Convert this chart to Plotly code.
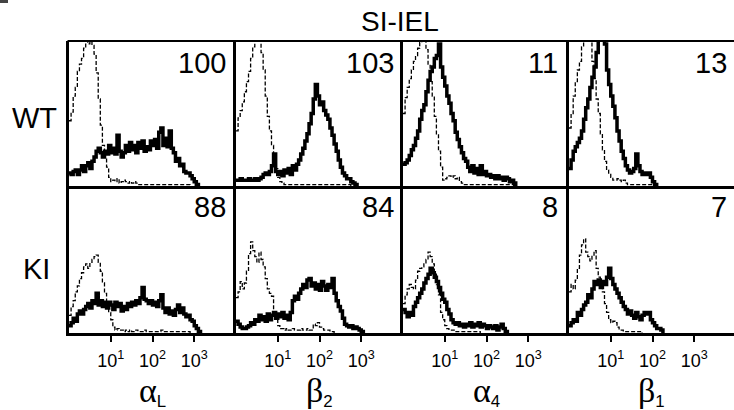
import plotly.graph_objects as go

# ---------------- data ----------------
# log10 fluorescence bin positions (decades)
BIN_LOG10 = [0.00, 0.05, 0.10, 0.15, 0.20, 0.25, 0.30, 0.35, 0.40, 0.45,
             0.50, 0.55, 0.60, 0.65, 0.70, 0.75, 0.80, 0.85, 0.90, 0.95,
             1.00, 1.05, 1.10, 1.15, 1.20, 1.25, 1.30, 1.35, 1.40, 1.45,
             1.50, 1.55, 1.60, 1.65, 1.70, 1.75, 1.80, 1.85, 1.90, 1.95,
             2.00, 2.05, 2.10, 2.15, 2.20, 2.25, 2.30, 2.35, 2.40, 2.45,
             2.50, 2.55, 2.60, 2.65, 2.70, 2.75, 2.80, 2.85, 2.90, 2.95,
             3.00, 3.05, 3.10, 3.15, 3.20]

TITLE = "SI-IEL"
ROW_LABELS = ["WT", "KI"]
MARKER_GREEK = ["α", "β", "α", "β"]
MARKER_SUB = ["L", "2", "4", "1"]
MFI_WT = [100, 103, 11, 13]
MFI_KI = [88, 84, 8, 7]
TICK_VALUES = [10, 100, 1000]
TICK_TEXT = ["10<sup>1</sup>", "10<sup>2</sup>", "10<sup>3</sup>"]

# histogram heights, % of panel height (solid = stained, iso = control)
WT_AL_SOLID = [9, 8, 10, 11, 8, 11, 14, 10, 14, 16, 12, 17, 20, 24, 26, 23, 20, 24, 22, 28,
               23, 26, 22, 35, 24, 20, 23, 28, 24, 30, 25, 28, 23, 30, 26, 31, 24, 27, 25, 31,
               28, 32, 26, 37, 40, 28, 33, 27, 38, 26, 23, 17, 19, 14, 15, 10, 9, 9, 7, 5,
               3, 1, 0]
WT_AL_ISO = [45, 51, 62, 68, 79, 84, 88, 95, 102, 98, 104, 97, 91, 78, 60, 42, 28, 20, 13, 6,
             3, 4, 3, 5, 2, 3, 4, 3, 2, 3, 2, 3, 2, 1, 1, 1, 1, 1, 1, 1,
             1, 1, 1, 1, 1, 1, 1, 1, 1, 1, 1, 1, 1, 1, 1, 1, 1, 1, 0]
WT_B2_SOLID = [4, 4, 5, 4, 4, 4, 5, 4, 4, 5, 4, 5, 6, 8, 9, 8, 10, 14, 22, 10,
               8, 10, 7, 11, 9, 12, 8, 14, 11, 15, 18, 22, 26, 31, 36, 43, 50, 60, 70, 62,
               56, 58, 52, 49, 46, 40, 35, 29, 24, 18, 13, 9, 7, 5, 5, 3, 2, 1, 0]
WT_B2_ISO = [38, 47, 52, 58, 65, 72, 79, 88, 96, 103, 100, 104, 92, 80, 62, 48, 38, 28, 22, 12,
             6, 3, 2, 1, 1, 1, 1, 1, 1, 1, 1, 1, 1, 1, 1, 1, 1, 1, 1, 1,
             1, 1, 1, 1, 1, 1, 1, 1, 1, 1, 1, 1, 1, 1, 1, 0]
WT_A4_SOLID = [15, 16, 18, 21, 25, 28, 33, 38, 46, 52, 56, 65, 73, 79, 82, 88, 90, 98, 82, 75,
               69, 62, 57, 50, 45, 37, 32, 27, 23, 19, 17, 13, 10, 14, 9, 12, 8, 14, 8, 10,
               7, 8, 6, 7, 5, 7, 5, 6, 4, 6, 5, 3, 4, 2, 0]
WT_A4_ISO = [50, 61, 68, 74, 80, 86, 90, 95, 99, 103, 101, 94, 84, 72, 62, 48, 36, 24, 13, 4,
             5, 6, 7, 6, 7, 5, 6, 3, 2, 1, 1, 1, 1, 1, 1, 1, 1, 1, 1, 1,
             1, 1, 1, 1, 1, 1, 1, 1, 1, 1, 1, 1, 1, 0]
WT_B1_SOLID = [12, 18, 24, 27, 30, 33, 38, 46, 54, 60, 68, 75, 82, 92, 101, 103, 104, 98, 80, 70,
               62, 55, 47, 38, 31, 24, 19, 14, 11, 9, 10, 12, 22, 14, 10, 8, 9, 8, 9, 6,
               3, 1, 0]
WT_B1_ISO = [40, 50, 62, 72, 80, 86, 96, 101, 104, 102, 103, 86, 74, 60, 50, 36, 25, 17, 11, 8,
             6, 4, 4, 5, 4, 3, 4, 2, 1, 1, 1, 1, 1, 1, 1, 1, 1, 1, 1, 1, 1, 1, 0]

KI_AL_SOLID = [5, 7, 10, 8, 13, 15, 13, 16, 18, 20, 17, 22, 20, 27, 19, 22, 18, 21, 17, 21,
               19, 16, 21, 18, 20, 15, 18, 16, 20, 18, 21, 19, 22, 20, 24, 31, 23, 22, 20, 22,
               19, 21, 18, 22, 26, 17, 14, 17, 13, 15, 12, 16, 19, 14, 17, 13, 11, 12, 9, 8,
               5, 3, 1, 0]
KI_AL_ISO = [12, 18, 22, 28, 32, 37, 41, 45, 47, 44, 48, 50, 52, 53, 48, 42, 34, 27, 21, 14,
             9, 4, 2, 3, 2, 2, 1, 2, 1, 2, 1, 1, 2, 1, 1, 1, 2, 1, 1, 1,
             1, 1, 1, 1, 2, 1, 1, 1, 1, 1, 1, 1, 1, 1, 1, 1, 1, 1, 0]
KI_B2_SOLID = [8, 6, 4, 3, 3, 4, 5, 7, 6, 9, 8, 12, 9, 11, 8, 13, 9, 12, 14, 10,
               13, 11, 14, 10, 12, 9, 14, 22, 25, 23, 27, 30, 33, 31, 36, 37, 32, 34, 30, 33,
               29, 35, 32, 29, 33, 31, 37, 27, 22, 18, 15, 10, 6, 5, 4, 5, 3, 4, 3, 2,
               1, 0]
KI_B2_ISO = [24, 28, 35, 30, 34, 42, 54, 62, 56, 52, 48, 55, 50, 45, 37, 30, 27, 25, 14, 9,
             5, 3, 3, 2, 3, 2, 2, 3, 2, 2, 2, 3, 2, 2, 3, 2, 2, 6, 5, 7,
             4, 3, 2, 2, 2, 1, 1, 0]
KI_A4_SOLID = [16, 14, 11, 14, 12, 18, 21, 24, 27, 30, 34, 37, 40, 44, 41, 38, 35, 31, 27, 23,
               21, 16, 13, 9, 7, 6, 7, 5, 6, 4, 6, 5, 7, 4, 6, 5, 7, 4, 6, 5,
               3, 5, 4, 3, 5, 2, 4, 6, 3, 1, 0]
KI_A4_ISO = [20, 26, 30, 33, 31, 30, 36, 42, 44, 45, 47, 50, 55, 52, 47, 40, 33, 26, 14, 9,
             5, 3, 2, 2, 2, 1, 1, 1, 1, 1, 1, 1, 1, 1, 1, 1, 1, 0]
KI_B1_SOLID = [5, 7, 9, 8, 14, 12, 16, 19, 21, 26, 24, 30, 35, 33, 36, 31, 35, 33, 38, 44,
               37, 33, 30, 27, 24, 21, 18, 16, 13, 15, 12, 10, 14, 11, 9, 12, 14, 13, 14, 9,
               7, 5, 3, 3, 2, 0]
KI_B1_ISO = [28, 33, 30, 36, 44, 53, 60, 64, 55, 52, 49, 53, 56, 44, 38, 33, 28, 20, 14, 9,
             7, 8, 7, 4, 2, 2, 1, 1, 1, 1, 1, 1, 1, 1, 1, 0]

# ---------------- layout (pixels) ----------------
W, H = 734, 410
COL_EDGES = [69, 236, 403, 569, 735]
ROW_EDGES = [41, 186, 333]
PX_PER_DECADE = 41.75
NUM_RIGHT = [228, 396, 560, 729]
NUM_Y = [63, 207]
ROW_LABEL_XY = [(34, 118), (36, 269)]

SANS = "Liberation Sans, Arial, Helvetica, sans-serif"


def fx(p):
    return p / W


def fy(p):
    return 1 - p / H


FLUOR = [10 ** b for b in BIN_LOG10]
SOLID = [[WT_AL_SOLID, WT_B2_SOLID, WT_A4_SOLID, WT_B1_SOLID],
         [KI_AL_SOLID, KI_B2_SOLID, KI_A4_SOLID, KI_B1_SOLID]]
ISO = [[WT_AL_ISO, WT_B2_ISO, WT_A4_ISO, WT_B1_ISO],
       [KI_AL_ISO, KI_B2_ISO, KI_A4_ISO, KI_B1_ISO]]
MFI = [MFI_WT, MFI_KI]

fig = go.Figure()
layout = {}
annotations = []

for r in range(2):
    for c in range(4):
        idx = r * 4 + c + 1
        sfx = "" if idx == 1 else str(idx)
        xa, ya = "x" + sfx, "y" + sfx
        for vals, st in ((ISO[r][c], dict(width=1.3, dash="4px,2px")),
                         (SOLID[r][c], dict(width=3.5))):
            n = len(vals)
            fig.add_trace(go.Scatter(
                x=FLUOR[:n], y=vals, mode="lines",
                line=dict(color="black", shape="hv", **st),
                hoverinfo="skip", showlegend=False, xaxis=xa, yaxis=ya))
        x0 = COL_EDGES[c]
        x1 = min(COL_EDGES[c + 1], W)
        layout["xaxis" + sfx] = dict(
            domain=[fx(x0), fx(x1)], type="log",
            range=[0, (x1 - x0) / PX_PER_DECADE], anchor=ya,
            showline=True, linewidth=3, linecolor="black",
            showgrid=False, zeroline=False,
            ticks="outside" if r == 1 else "", ticklen=6, tickwidth=2,
            tickcolor="black",
            tickvals=TICK_VALUES, ticktext=TICK_TEXT,
            showticklabels=(r == 1), ticklabelstandoff=3,
            tickfont=dict(family=SANS, size=18, color="black"),
            fixedrange=True)
        layout["yaxis" + sfx] = dict(
            domain=[fy(ROW_EDGES[r + 1]), fy(ROW_EDGES[r])],
            range=[0, 100], anchor=xa,
            showline=True, linewidth=3, linecolor="black",
            showgrid=False, zeroline=False, ticks="",
            showticklabels=False, fixedrange=True)
        annotations.append(dict(
            text=str(MFI[r][c]), xref="paper", yref="paper",
            x=fx(NUM_RIGHT[c]), y=fy(NUM_Y[r]), xanchor="right", yanchor="middle",
            showarrow=False, font=dict(family=SANS, size=29, color="black")))

# row labels
for r in range(2):
    px_, py_ = ROW_LABEL_XY[r]
    annotations.append(dict(
        text=ROW_LABELS[r], xref="paper", yref="paper", x=fx(px_), y=fy(py_),
        xanchor="center", yanchor="middle", showarrow=False,
        font=dict(family=SANS, size=29, color="black")))

# column (marker) labels
for c in range(4):
    cx = (COL_EDGES[c] + min(COL_EDGES[c + 1], W)) / 2
    txt = ("<span style='font-family:%s;font-size:34px'>%s</span>"
           "<sub>%s</sub>" % ("Liberation Serif", MARKER_GREEK[c], MARKER_SUB[c]))
    annotations.append(dict(
        text=txt, xref="paper", yref="paper", x=fx(cx), y=fy(391),
        xanchor="center", yanchor="middle", showarrow=False,
        font=dict(family=SANS, size=24, color="black")))

# title
annotations.append(dict(
    text=TITLE, xref="paper", yref="paper", x=fx(400), y=fy(21),
    xanchor="center", yanchor="middle", showarrow=False,
    font=dict(family=SANS, size=28, color="black")))

shapes = [
    dict(type="line", xref="paper", yref="paper",
         x0=fx(COL_EDGES[0] - 1.5), x1=1, y0=fy(ROW_EDGES[0]), y1=fy(ROW_EDGES[0]),
         line=dict(color="black", width=2)),
    dict(type="rect", xref="paper", yref="paper",
         x0=0, x1=fx(8), y0=fy(3), y1=1, line=dict(width=0), fillcolor="#444444"),
]

fig.update_layout(
    width=W, height=H, autosize=False,
    margin=dict(l=0, r=0, t=0, b=0, pad=0),
    paper_bgcolor="white", plot_bgcolor="white",
    annotations=annotations, shapes=shapes, **layout)

fig.write_html(
    "out.html", config={"displayModeBar": False},
    post_script="document.body.style.margin='0';document.body.style.overflow='hidden';")
